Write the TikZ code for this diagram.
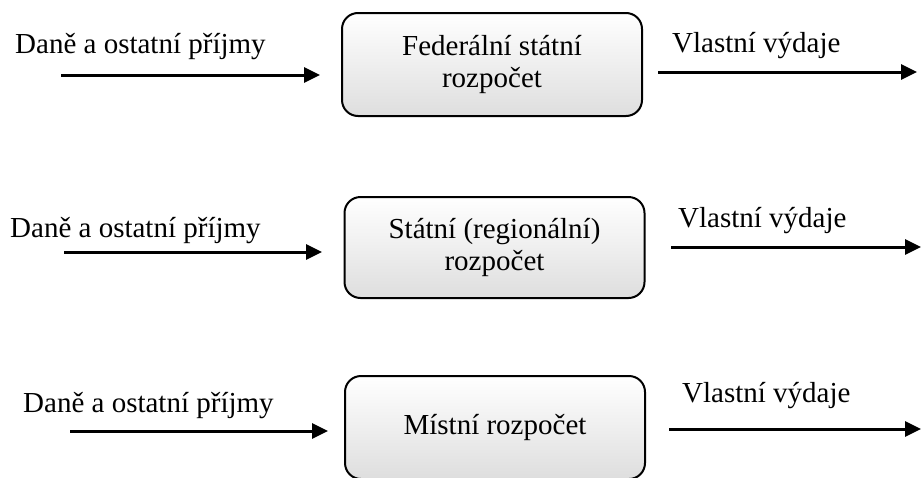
\documentclass[tikz,border=0pt]{standalone}
\usepackage{fontspec}
\setmainfont{Liberation Serif}
\usetikzlibrary{arrows.meta}
\begin{document}
\begin{tikzpicture}[x=1pt,y=-1pt,
  lbl/.style={anchor=base west, inner sep=0pt, font=\fontsize{29}{30}\selectfont},
  budget/.style={draw=black, line width=2pt, rounded corners=16pt,
    top color=white, bottom color=black!13, align=center,
    minimum width=300pt, inner sep=0pt, font=\fontsize{29}{32}\selectfont},
  flow/.style={line width=3pt, -{Triangle[length=16pt,width=15pt]}}]
\useasboundingbox (0,0) rectangle (923,477);

% budget levels
\node[budget, minimum height=103pt] (fed) at (492,64.5) {Federální státní\\rozpočet};
\node[budget, minimum height=101pt] (reg) at (494.5,247.5) {Státní (regionální)\\rozpočet};
\node[budget, minimum height=103pt] (loc) at (495,427.5) {Místní rozpočet};

% income labels
\node[lbl] (fedInL) at (15,53) {Daně a ostatní příjmy};
\node[lbl] (regInL) at (10,237) {Daně a ostatní příjmy};
\node[lbl] (locInL) at (23,412) {Daně a ostatní příjmy};

% expenditure labels
\node[lbl] (fedOutL) at (672,52) {Vlastní výdaje};
\node[lbl] (regOutL) at (678,227) {Vlastní výdaje};
\node[lbl] (locOutL) at (682,402) {Vlastní výdaje};

% arrow end points
\coordinate (fedInA) at (61,75);   \coordinate (fedInB) at (320,75);
\coordinate (regInA) at (64,252);  \coordinate (regInB) at (322,252);
\coordinate (locInA) at (70,431);  \coordinate (locInB) at (328,431);
\coordinate (fedOutA) at (658,72); \coordinate (fedOutB) at (917,72);
\coordinate (regOutA) at (671,247);\coordinate (regOutB) at (921,247);
\coordinate (locOutA) at (669,429);\coordinate (locOutB) at (921,429);

\draw[flow] (fedInA) -- (fedInB);
\draw[flow] (regInA) -- (regInB);
\draw[flow] (locInA) -- (locInB);
\draw[flow] (fedOutA) -- (fedOutB);
\draw[flow] (regOutA) -- (regOutB);
\draw[flow] (locOutA) -- (locOutB);
\end{tikzpicture}
\end{document}
